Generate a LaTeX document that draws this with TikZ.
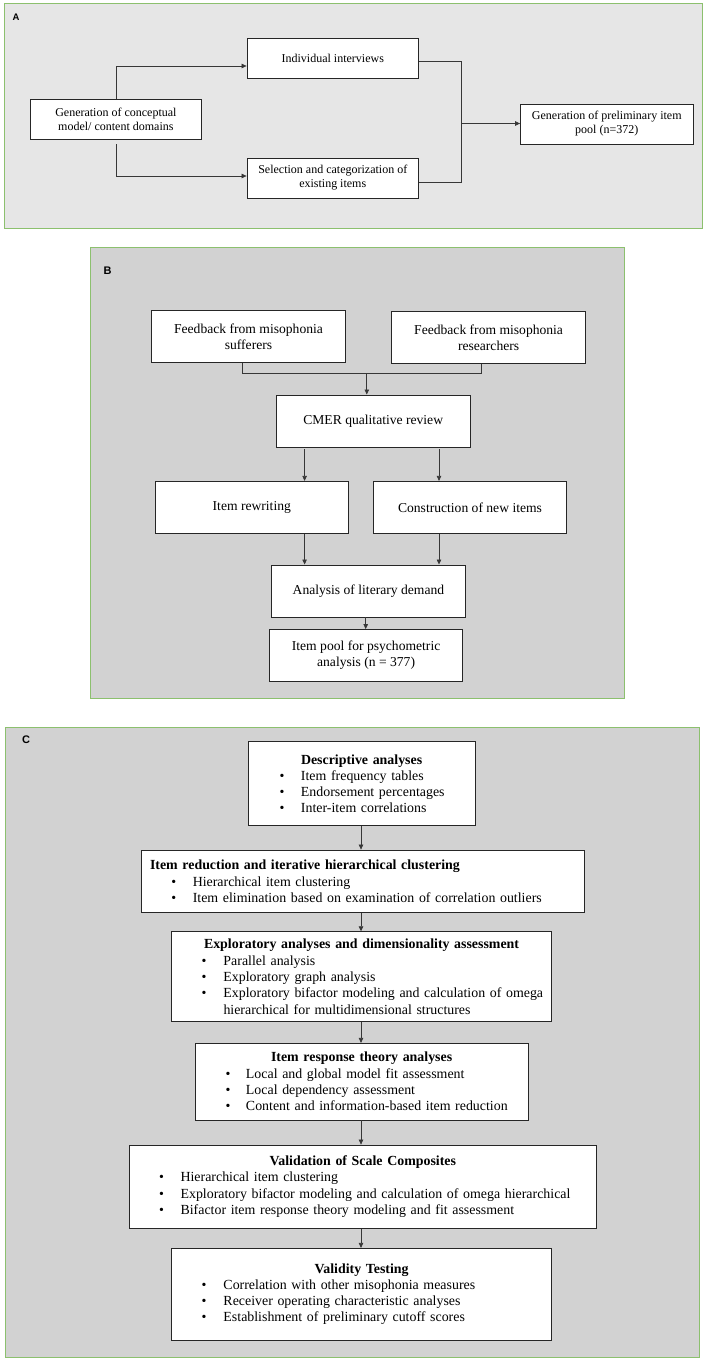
\documentclass[tikz,border=0pt]{standalone}
\usepackage{fontspec}
\setmainfont{Liberation Serif}
\newfontfamily\labelfont{Liberation Sans}
\usetikzlibrary{arrows.meta,calc}
\definecolor{panelA}{RGB}{230,230,230}
\definecolor{panelBC}{RGB}{210,210,210}
\definecolor{pgreen}{RGB}{140,192,110}
\definecolor{lineg}{RGB}{55,55,55}
\newcommand\bul[3]{\hspace*{#1}\makebox[#2][l]{\textbullet}#3}
\begin{document}
\begin{tikzpicture}[x=1pt,y=-1pt,
 panel/.style={draw=pgreen, line width=1pt},
 plabel/.style={font=\labelfont\bfseries\fontsize{11}{13}\selectfont, inner sep=0},
 abox/.style={draw=black!85, fill=white, line width=0.8pt, inner sep=0, align=center, minimum height=40pt, font=\fontsize{12}{14}\selectfont},
 bbox/.style={draw=black!85, fill=white, line width=0.8pt, inner sep=0, align=center, minimum width=193.5pt, minimum height=52pt, font=\fontsize{13.6}{15.7}\selectfont},
 cbox/.style={draw=black!85, fill=white, line width=0.8pt, inner sep=0, align=left, font=\fontsize{13.9}{16.3}\selectfont},
 conn/.style={draw=lineg, line width=0.7pt},
 arr/.style={conn, -{Triangle[length=5pt,width=4.5pt]}},
]
\useasboundingbox (0,0) rectangle (708,1362);
\fill[white] (0,0) rectangle (708,1362);

% ---------- panels ----------
\draw[panel, fill=panelA] (4.5,4) rectangle (702.5,228);
\draw[panel, fill=panelBC] (90,247) rectangle (624.6,698);
\draw[panel, fill=panelBC] (5.5,727.3) rectangle (699,1357.3);
\node[plabel, font=\labelfont\bfseries\fontsize{9.5}{11}\selectfont] (la) at (16,17) {A};
\node[plabel] (lb) at (107.5,270.7) {B};
\node[plabel] (lc) at (26,740) {C};

% ---------- panel A ----------
\node[abox, minimum width=170.3pt] (gen) at (115.9,119) {Generation of conceptual\\model/ content domains};
\node[abox, minimum width=171.5pt] (ii) at (332.75,58) {Individual interviews};
\node[abox, minimum width=171.5pt] (sel) at (332.75,178) {Selection and categorization of\\existing items};
\node[abox, minimum width=172.5pt] (pre) at (606.75,124) {Generation of preliminary item\\pool (n=372)};

\draw[arr] (gen.north) |- ([yshift=-8pt]ii.west);
\draw[arr] ([yshift=-5pt]gen.south) |- ([yshift=2pt]sel.west);
\coordinate (mt) at (461.7,61.7);
\coordinate (mb) at (461.7,182);
\coordinate (mm) at (461.7,123.5);
\draw[conn] ([yshift=-3.7pt]ii.east) -- (mt) -- (mb) -- ([yshift=-4pt]sel.east);
\draw[arr] (mm) -- (mm -| pre.west);

% ---------- panel B ----------
\node[bbox] (suf) at (248.5,336.5) {Feedback from misophonia\\sufferers};
\node[bbox] (res) at (488.6,337.5) {Feedback from misophonia\\researchers};
\node[bbox] (cmer) at (373.2,420.9) {CMER qualitative review};
\node[bbox] (rew) at (251.8,507.3) {Item rewriting};
\node[bbox] (con) at (470,507.3) {Construction of new items};
\node[bbox] (ana) at (368.4,590.9) {Analysis of literary demand};
\node[bbox] (pool) at (366.1,655.5) {Item pool for psychometric\\analysis (n = 377)};

\coordinate (bj) at (366.8,373.3);
\draw[conn] ([xshift=-6pt]suf.south) |- (bj) -| ([xshift=-6.8pt]res.south);
\draw[arr] (bj) -- (bj |- cmer.north);
\coordinate (b1) at (304.6,449.3);
\coordinate (b2) at (439,449.3);
\draw[arr] (b1) -- (b1 |- rew.north);
\draw[arr] (b2) -- (b2 |- con.north);
\draw[arr] (b1 |- rew.south) -- (b1 |- ana.north);
\draw[arr] (b2 |- con.south) -- (b2 |- ana.north);
\coordinate (b5) at (365.7,620);
\draw[arr] (b5 |- ana.south) -- (b5 |- pool.north);

% ---------- panel C ----------
\node[cbox, text width=227.1pt, minimum height=84pt] (desc) at (361.85,783.7) {%
\hspace*{52.7pt}\textbf{Descriptive analyses}\\
\bul{31.2pt}{21.5pt}{Item frequency tables}\\
\bul{31.2pt}{21.5pt}{Endorsement percentages}\\
\bul{31.2pt}{21.5pt}{Inter-item correlations}};

\node[cbox, text width=443.8pt, minimum height=62.7pt] (red) at (362.8,881.35) {%
\hspace*{9.1pt}\textbf{Item reduction and iterative hierarchical clustering}\\
\bul{30.4pt}{21.5pt}{Hierarchical item clustering}\\
\bul{30.4pt}{21.5pt}{Item elimination based on examination of correlation outliers}};

\node[cbox, text width=380.1pt, minimum height=90pt] (exp) at (361.65,976.7) {%
\hspace*{32.4pt}\textbf{Exploratory analyses and dimensionality assessment}\\
\bul{29.9pt}{22pt}{Parallel analysis}\\
\bul{29.9pt}{22pt}{Exploratory graph analysis}\\
\bul{29.9pt}{22pt}{Exploratory bifactor modeling and calculation of omega}\\
\hspace*{51.9pt}hierarchical for multidimensional structures};

\node[cbox, text width=333.2pt, minimum height=76.7pt] (irt) at (361.6,1081.65) {%
\makebox[\hsize][c]{\textbf{Item response theory analyses}}\\
\bul{30.5pt}{20.5pt}{Local and global model fit assessment}\\
\bul{30.5pt}{20.5pt}{Local dependency assessment}\\
\bul{30.5pt}{20.5pt}{Content and information-based item reduction}};

\node[cbox, text width=466.4pt, minimum height=83.3pt] (val) at (362.8,1186.65) {%
\makebox[\hsize][c]{\textbf{Validation of Scale Composites}}\\
\bul{29.5pt}{21.5pt}{Hierarchical item clustering}\\
\bul{29.5pt}{21.5pt}{Exploratory bifactor modeling and calculation of omega hierarchical}\\
\bul{29.5pt}{21.5pt}{Bifactor item response theory modeling and fit assessment}};

\node[cbox, text width=380.1pt, minimum height=91.7pt] (vt) at (361.65,1294.15) {%
\makebox[\hsize][c]{\textbf{Validity Testing}}\\
\bul{29.9pt}{22pt}{Correlation with other misophonia measures}\\
\bul{29.9pt}{22pt}{Receiver operating characteristic analyses}\\
\bul{29.9pt}{22pt}{Establishment of preliminary cutoff scores}};

\coordinate (cx) at (361,0);
\draw[arr] (cx |- desc.south) -- (cx |- red.north);
\draw[arr] (cx |- red.south) -- (cx |- exp.north);
\draw[arr] (cx |- exp.south) -- (cx |- irt.north);
\draw[arr] (cx |- irt.south) -- (cx |- val.north);
\draw[arr] (cx |- val.south) -- (cx |- vt.north);
\end{tikzpicture}
\end{document}
